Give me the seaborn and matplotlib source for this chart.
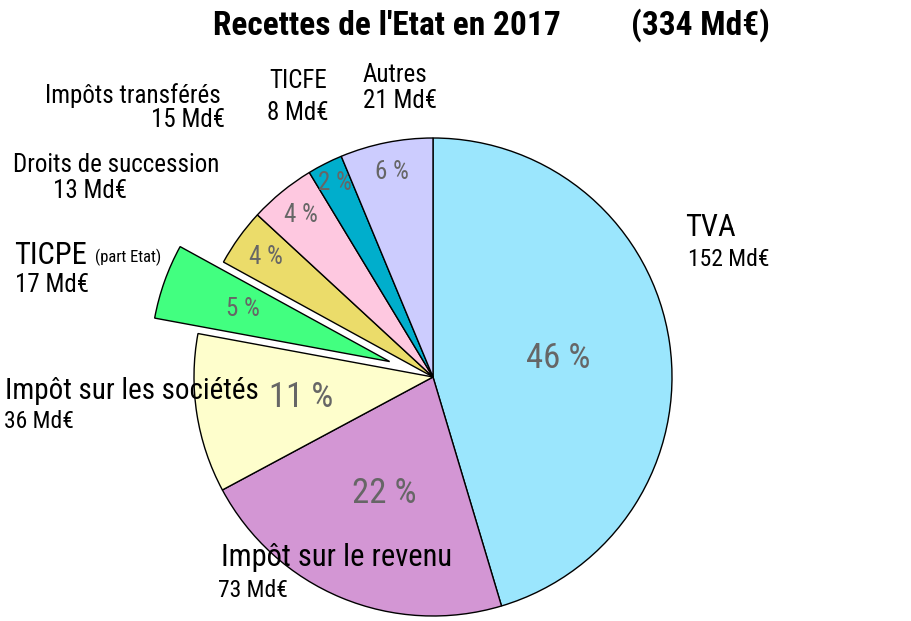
import matplotlib
matplotlib.use("Agg")
import matplotlib.pyplot as plt
from matplotlib import font_manager as fm
import seaborn as sns
import numpy as np

# ---- data ----
categories = ["TVA", "Impôt sur le revenu", "Impôt sur les sociétés", "TICPE",
              "Droits de succession", "Impôts transférés", "TICFE", "Autres"]
values = [152, 73, 36, 17, 13, 15, 8, 21]          # Md€
total = 334                                          # Md€ (title)
amount_labels = [f"{v} Md€" for v in values]
pct_labels = [f"{round(v / total * 100)} %" for v in values]

# ---- styles ----
colors = ["#9be6fd", "#d396d4", "#fefecc", "#42ff80",
          "#ebdc6a", "#fec8e0", "#00aecc", "#ccccfe"]
explode_px = [0, 0, 0, 46, 0, 0, 0, 0]
pct_dist = [0.53, 0.53, 0.56, 0.65, 0.86, 0.875, 0.91, 0.875]
pct_size = [25, 25, 25, 18, 18, 18, 18, 18]

sns.set_theme(style="white")
available = {f.name for f in fm.fontManager.ttflist}
prefs = ["Liberation Sans Narrow", "Arial Narrow", "Roboto Condensed",
         "Archivo Narrow", "Pragati Narrow"]
narrow = [p for p in prefs if p in available][:1]
plt.rcParams["font.family"] = narrow + ["Liberation Sans", "DejaVu Sans"]
plt.rcParams["text.color"] = "black"

W, H = 911, 621
fig = plt.figure(figsize=(W / 100, H / 100), dpi=100)
ax = fig.add_axes([0, 0, 1, 1])

def Y(py):
    return H - py

R = 239
C = (433, Y(377))
wedges, _ = ax.pie(values, colors=colors, startangle=90, counterclock=False,
                   explode=explode_px, radius=R, center=C,
                   wedgeprops=dict(edgecolor="black", linewidth=1.0))
ax.set_xlim(0, W)
ax.set_ylim(0, H)
ax.set_aspect("equal")
ax.axis("off")

# percentage labels placed from the wedges' own geometry
for w, lab, d, fs in zip(wedges, pct_labels, pct_dist, pct_size):
    th = np.deg2rad((w.theta1 + w.theta2) / 2)
    cx, cy = w.center
    ax.text(cx + d * R * np.cos(th), cy + d * R * np.sin(th), lab,
            ha="center", va="center", fontsize=fs, color="#666666")

# category labels
big = 22
small = 18
ax.text(685, Y(236), categories[0], fontsize=big, ha="left", va="baseline")
ax.text(688, Y(266), amount_labels[0], fontsize=17, ha="left", va="baseline")

ax.text(221, Y(566), categories[1], fontsize=big, ha="left", va="baseline")
ax.text(218, Y(597), amount_labels[1], fontsize=17, ha="left", va="baseline")

ax.text(5, Y(399), categories[2], fontsize=21, ha="left", va="baseline")
ax.text(4, Y(428), amount_labels[2], fontsize=17, ha="left", va="baseline")

ax.text(14, Y(264), categories[3], fontsize=22, ha="left", va="baseline")
ax.text(95, Y(262), "(part Etat)", fontsize=12, ha="left", va="baseline")
ax.text(15, Y(292), amount_labels[3], fontsize=small, ha="left", va="baseline")

ax.text(13, Y(172), categories[4], fontsize=small, ha="left", va="baseline")
ax.text(53, Y(198), amount_labels[4], fontsize=small, ha="left", va="baseline")

ax.text(221, Y(103), categories[5], fontsize=small, ha="right", va="baseline")
ax.text(225, Y(127), amount_labels[5], fontsize=small, ha="right", va="baseline")

ax.text(298, Y(88), categories[6], fontsize=small, ha="center", va="baseline")
ax.text(298, Y(120), amount_labels[6], fontsize=small, ha="center", va="baseline")

ax.text(363, Y(82), categories[7], fontsize=small, ha="left", va="baseline")
ax.text(363, Y(108), amount_labels[7], fontsize=small, ha="left", va="baseline")

# title
ax.text(213, Y(35), "Recettes de l'Etat en 2017", fontsize=24, fontweight="bold",
        ha="left", va="baseline")
ax.text(770, Y(35), f"({total} Md€)", fontsize=24, fontweight="bold",
        ha="right", va="baseline")

fig.savefig("out.png", dpi=100)
